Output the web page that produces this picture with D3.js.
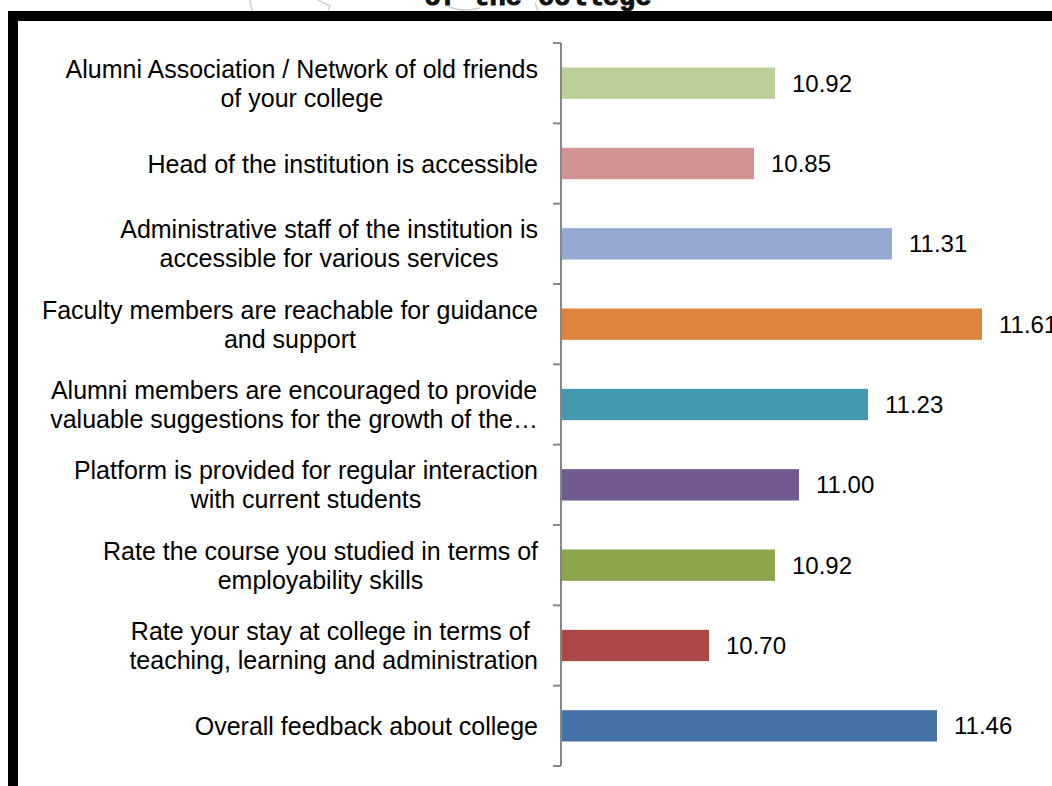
<!DOCTYPE html>
<html><head><meta charset="utf-8">
<script src="https://cdn.jsdelivr.net/npm/d3@7/dist/d3.min.js"></script>
<style>body{margin:0;background:#fff;}svg{display:block;}</style>
</head><body>
<svg id="chart" width="1052" height="786"></svg>
<script>
const categories = [
  "Alumni Association / Network of old friends\nof your college",
  "Head of the institution is accessible",
  "Administrative staff of the institution is\naccessible for various services",
  "Faculty members are reachable for guidance\nand support",
  "Alumni members are encouraged to provide\nvaluable suggestions for the growth of the…",
  "Platform is provided for regular interaction\nwith current students",
  "Rate the course you studied in terms of\nemployability skills",
  "Rate your stay at college in terms of \nteaching, learning and administration",
  "Overall feedback about college"
];
const values = [10.92, 10.85, 11.31, 11.61, 11.23, 11.00, 10.92, 10.70, 11.46];
const colors = ["#BBD098", "#D39292", "#95AAD2", "#DD8440", "#4299B0", "#705A8F", "#8BA64B", "#AB4846", "#4572A7"];
const titleText = "of the college";

const FONT = "'Liberation Sans', Arial, sans-serif";
const svg = d3.select("#chart");

// faint sketch lines behind the title
svg.append("path")
  .attr("d", "M250,0 L252,11 M318,0 L330,6 L328,11 M447,6 Q462,13 480,8 M535,3 L538,11")
  .attr("fill", "none").attr("stroke", "#cfcfcf").attr("stroke-width", 1.5);

svg.append("text")
  .attr("x", 538).attr("y", 5)
  .attr("text-anchor", "middle")
  .attr("font-family", "'Liberation Mono', 'DejaVu Sans Mono', monospace")
  .attr("font-weight", "bold").attr("font-size", 27)
  .attr("fill", "#111").attr("stroke", "#111").attr("stroke-width", 1)
  .text(titleText);

// frame
svg.append("rect")
  .attr("x", 13).attr("y", 16).attr("width", 1100).attr("height", 900)
  .attr("fill", "#fff").attr("stroke", "#000").attr("stroke-width", 10);

const x = d3.scaleLinear().domain([10.21, 11.8]).range([562, 1039]);
const y = d3.scaleBand().domain(d3.range(categories.length)).range([43, 766]).paddingInner(0.61).paddingOuter(0.305);

// bars
svg.append("g").selectAll("rect").data(values).join("rect")
  .attr("x", x(10.21))
  .attr("y", (d, i) => y(i))
  .attr("width", d => x(d) - x(10.21))
  .attr("height", y.bandwidth())
  .attr("fill", (d, i) => colors[i]);

// value labels
svg.append("g").selectAll("text").data(values).join("text")
  .attr("x", d => x(d) + 17)
  .attr("y", (d, i) => y(i) + y.bandwidth() / 2)
  .attr("dy", "0.36em")
  .attr("font-family", FONT)
  .attr("font-size", 24)
  .attr("fill", "#000")
  .text(d => d.toFixed(2));

// axis
const yb = d3.scaleBand().domain(d3.range(categories.length)).range([43, 766]);
const axisG = svg.append("g").attr("transform", "translate(561,0)");
axisG.append("line").attr("x1", 0).attr("x2", 0).attr("y1", 43).attr("y2", 766)
  .attr("stroke", "#878787").attr("stroke-width", 2);
const tickPos = d3.range(categories.length + 1).map(i => i < categories.length ? yb(i) : 766);
axisG.selectAll("line.tick").data(tickPos).join("line").attr("class", "tick")
  .attr("x1", -8).attr("x2", 0).attr("y1", d => d).attr("y2", d => d)
  .attr("stroke", "#878787").attr("stroke-width", 2);

// category labels
const lab = svg.append("g").selectAll("text").data(categories).join("text")
  .attr("font-family", FONT)
  .attr("font-size", 25)
  .attr("fill", "#000")
  .attr("xml:space", "preserve")
  .style("white-space", "pre");
lab.each(function(d, i) {
  const lines = d.split("\n");
  const cy = yb(i) + yb.bandwidth() / 2;
  const lh = 29;
  const t = d3.select(this);
  lines.forEach((ln, k) => {
    t.append("tspan")
      .attr("x", 538)
      .attr("text-anchor", "end")
      .attr("y", cy + (k - (lines.length - 1) / 2) * lh)
      .attr("dy", "0.36em")
      .text(ln);
  });
});
// multi-line labels: lines centred on each other, block right-aligned at 538
lab.each(function() {
  const tspans = d3.select(this).selectAll("tspan").nodes();
  if (tspans.length > 1) {
    const wMax = d3.max(tspans, ts => ts.getComputedTextLength());
    const center = 538 - wMax / 2;
    tspans.forEach(ts => { d3.select(ts).attr("x", center).attr("text-anchor", "middle"); });
  }
});
</script>
</body></html>
